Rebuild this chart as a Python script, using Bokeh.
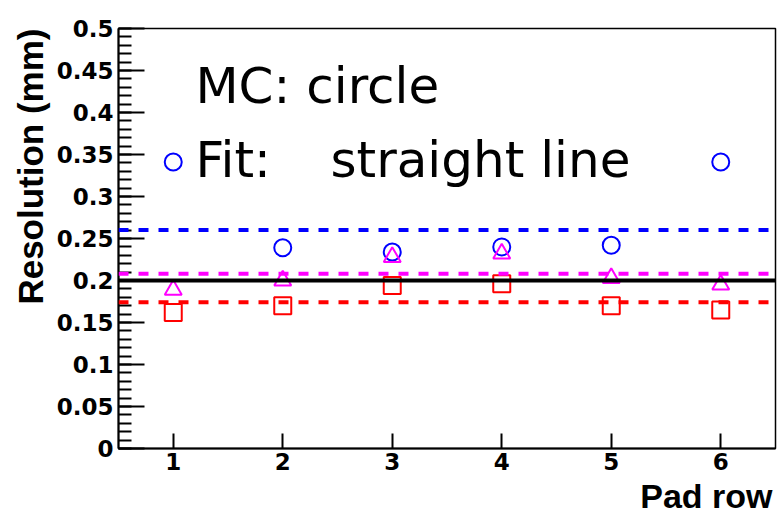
import math
from bokeh.plotting import figure
from bokeh.models import Range1d, FixedTicker, Span, Label, Title
from bokeh.embed import file_html
from bokeh.resources import INLINE

# ---- data ----
pad_row = [1, 2, 3, 4, 5, 6]
mc_circle = [0.341, 0.239, 0.234, 0.240, 0.242, 0.341]
res_triangle = [0.189, 0.200, 0.228, 0.232, 0.203, 0.195]
res_square = [0.162, 0.170, 0.194, 0.196, 0.170, 0.165]

fit_blue = 0.260
fit_magenta = 0.208
fit_black = 0.200
fit_red = 0.174

x_ticks = [1, 2, 3, 4, 5, 6]
y_ticks = [0, 0.05, 0.1, 0.15, 0.2, 0.25, 0.3, 0.35, 0.4, 0.45, 0.5]
y_tick_labels = ["0", "0.05", "0.1", "0.15", "0.2", "0.25", "0.3", "0.35", "0.4", "0.45", "0.5"]
y_minor_ticks = [i / 100 for i in range(51)]

AX_FONT = "Liberation Sans"
TICK_FONT = "DejaVu Sans"

p = figure(width=777, height=519,
           x_range=Range1d(0.5, 6.5), y_range=Range1d(0, 0.5),
           output_backend="svg", toolbar_location=None,
           min_border_left=118, min_border_right=2,
           min_border_top=28, min_border_bottom=71)
p.background_fill_color = "white"
p.border_fill_color = "white"
p.grid.visible = False
p.outline_line_color = "black"
p.outline_line_width = 1.5

# axes
for ax in (p.xaxis[0], p.yaxis[0]):
    ax.axis_line_width = 2
    ax.major_tick_line_width = 2
    ax.minor_tick_line_width = 2
    ax.major_tick_out = 0
    ax.minor_tick_out = 0
    ax.major_label_text_font = TICK_FONT
    ax.major_label_text_font_style = "bold"
    ax.major_label_text_font_size = "23px"
    ax.major_label_text_color = "black"

p.xaxis.ticker = FixedTicker(ticks=x_ticks)
p.xaxis.major_tick_in = 15
p.xaxis.minor_tick_line_color = None
p.xaxis.major_label_standoff = 4

p.yaxis.ticker = FixedTicker(ticks=y_ticks, minor_ticks=y_minor_ticks)
p.yaxis.major_label_overrides = dict(zip(y_ticks, y_tick_labels))
p.yaxis.major_tick_in = 26
p.yaxis.minor_tick_in = 13
p.yaxis.major_label_standoff = 5

# axis titles (side titles, end-aligned like ROOT)
ytitle = Title(text="Resolution (mm)", align="right", offset=0, standoff=7,
               text_font=AX_FONT, text_font_style="bold",
               text_font_size="35px", text_color="black")
p.add_layout(ytitle, "left")
xtitle = Title(text="Pad row", align="right", offset=3, standoff=4,
               text_font=AX_FONT, text_font_style="bold",
               text_font_size="34px", text_color="black")
p.add_layout(xtitle, "below")

# fit lines
p.add_layout(Span(location=fit_blue, dimension="width", line_color="#0000ff",
                  line_width=4, line_dash="10 10"))
p.add_layout(Span(location=fit_magenta, dimension="width", line_color="#ff00ff",
                  line_width=4, line_dash="10 10"))
p.add_layout(Span(location=fit_black, dimension="width", line_color="black",
                  line_width=4))
p.add_layout(Span(location=fit_red, dimension="width", line_color="#ff0000",
                  line_width=4, line_dash="10 10"))

# markers
p.scatter(pad_row, mc_circle, marker="circle", size=17, fill_color=None,
          line_color="#0000ff", line_width=2)
p.scatter(pad_row, res_triangle, marker="triangle", size=17, fill_color=None,
          line_color="#ff00ff", line_width=2)
p.scatter(pad_row, res_square, marker="square", size=17, fill_color=None,
          line_color="#ff0000", line_width=2)

# annotation texts
TXT_FONT = "DejaVu Sans"
p.add_layout(Label(x=1.203, y=0.432, text="MC: circle",
                   text_align="left", text_baseline="alphabetic",
                   text_font=TXT_FONT, text_font_size="50px", text_color="black"))
p.add_layout(Label(x=1.203, y=0.343, text="Fit:",
                   text_align="left", text_baseline="alphabetic",
                   text_font=TXT_FONT, text_font_size="50px", text_color="black"))
p.add_layout(Label(x=2.436, y=0.343, text="straight line",
                   text_align="left", text_baseline="alphabetic",
                   text_font=TXT_FONT, text_font_size="50px", text_color="black"))

open("out.html", "w").write(file_html(p, INLINE))
